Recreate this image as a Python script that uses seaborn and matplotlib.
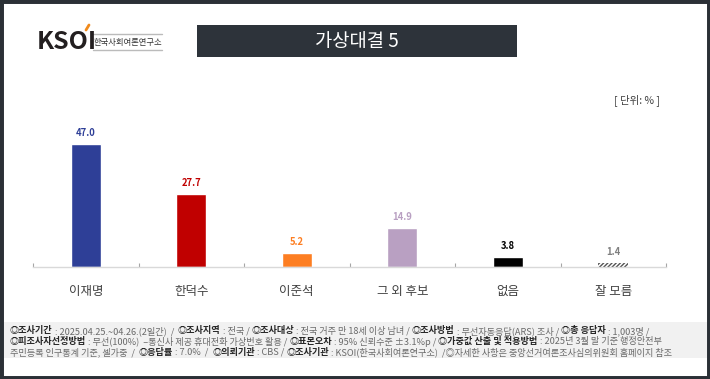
import numpy as np
import matplotlib.pyplot as plt
import seaborn as sns
from matplotlib.patches import Rectangle

# =========================
# DATA
# =========================

candidates = ["이재명", "한덕수", "이준석", "그 외 후보", "없음", "잘 모름"]
values = [47.0, 27.7, 5.2, 14.9, 3.8, 1.4]
bar_colors = ["#2e3f97", "#c00000", "#fd7e22", "#b9a0c2", "#000000", "#ffffff"]
label_colors = ["#2e3f97", "#c00000", "#fd7e22", "#b9a0c2", "#000000", "#7f7f7f"]

title = "가상대결 5"
unit_text = "[ 단위: % ]"

footer_lines = [
    [("◎조사기간", True), (" : 2025.04.25.~04.26.(2일간)  /  ", False),
     ("◎조사지역", True), (" : 전국 / ", False),
     ("◎조사대상", True), (" : 전국 거주 만 18세 이상 남녀 / ", False),
     ("◎조사방법", True), (" : 무선자동응답(ARS) 조사 / ", False),
     ("◎총 응답자", True), (" : 1,003명 /", False)],
    [("◎피조사자선정방법", True), (" : 무선(100%)  –통신사 제공 휴대전화 가상번호 활용 / ", False),
     ("◎표본오차", True), (" : 95% 신뢰수준 ±3.1%p / ", False),
     ("◎가중값 산출 및 적용방법", True), (" : 2025년 3월 말 기준 행정안전부", False)],
    [("주민등록 인구통계 기준, 셀가중  /  ", False),
     ("◎응답률", True), (" : 7.0%  /  ", False),
     ("◎의뢰기관", True), (" : CBS / ", False),
     ("◎조사기관", True), (" : KSOI(한국사회여론연구소)  /◎자세한 사항은 중앙선거여론조사심의위원회 홈페이지 참조", False)],
]

# =========================
# FIGURE
# =========================

sns.set_theme(style="white")
plt.rcParams["font.family"] = ["Noto Sans CJK KR", "DejaVu Sans"]

W, H = 710, 379
fig = plt.figure(figsize=(W / 100, H / 100), dpi=100, facecolor="white")


def fx(x):
    return x / W


def fy(y):
    return 1 - y / H


# outer frame
fig.patches.append(Rectangle((0, 0), 1, 1, transform=fig.transFigure,
                             facecolor="none", edgecolor="#2b3036",
                             linewidth=5, zorder=10))

# footer band
fig.patches.append(Rectangle((fx(3), fy(358)), fx(704), 36 / H,
                             transform=fig.transFigure, facecolor="#f1f1f1",
                             edgecolor="none", zorder=1))

# title box
fig.patches.append(Rectangle((fx(197), fy(57)), fx(320), 32 / H,
                             transform=fig.transFigure, facecolor="#2d333a",
                             edgecolor="none", zorder=1))
fig.text(fx(357), fy(41), title, color="white", fontsize=13.5,
         ha="center", va="center", zorder=2)

# logo
fig.text(fx(37), fy(42), "KSOI", color="#231f20", fontsize=18,
         fontweight="bold", ha="left", va="center")
fig.add_artist(plt.Line2D([fx(86), fx(89)], [fy(30), fy(25)],
                          color="#f08a1c", linewidth=2))
fig.text(fx(94), fy(42), "한국사회여론연구소", color="#333333", fontsize=6,
         ha="left", va="center")
fig.add_artist(plt.Line2D([fx(93), fx(162)], [fy(34), fy(34)],
                          color="#bbbbbb", linewidth=1))
fig.add_artist(plt.Line2D([fx(93), fx(162)], [fy(50), fy(50)],
                          color="#bbbbbb", linewidth=1))

# unit
fig.text(fx(660), fy(100), unit_text, color="#404040", fontsize=7.5,
         ha="right", va="center")

# =========================
# BARS
# =========================

ax = fig.add_axes([fx(33), fy(266.7), (666 - 33) / W, (266.7 - 110) / H])

sns.barplot(x=candidates, y=values, hue=candidates, palette=bar_colors,
            legend=False, width=0.285, saturation=1, ax=ax)

last = ax.patches[-1]
last.set_facecolor("white")
last.set_edgecolor("#555555")
last.set_hatch("////////")
last.set_linewidth(0)

for i, (v, c) in enumerate(zip(values, label_colors)):
    ax.annotate(f"{v:.1f}", (i, v), xytext=(0, 8), textcoords="offset points",
                ha="center", va="center", fontsize=6.8, fontweight="bold",
                color=c)

ax.set_xlim(-0.5, 5.5)
ax.set_ylim(0, 60)
ax.set_yticks([])
ax.set_xlabel("")
ax.set_ylabel("")
for s in ["top", "left", "right"]:
    ax.spines[s].set_visible(False)
ax.spines["bottom"].set_color("#d9d9d9")
ax.spines["bottom"].set_linewidth(1)

ax.set_xticks(range(len(candidates)))
ax.set_xticklabels(candidates, fontsize=9, color="#404040")
ax.tick_params(axis="x", which="major", length=0, pad=13)
ax.set_xticks(np.arange(-0.5, len(candidates), 1), minor=True)
ax.tick_params(axis="x", which="minor", direction="in", length=3,
               width=0.8, color="#a6a6a6", bottom=True)
ax.patch.set_alpha(0)

# =========================
# FOOTER
# =========================

renderer = fig.canvas.get_renderer()
for row, segs in enumerate(footer_lines):
    x = 10
    y = 331 + row * 10.7
    for txt, bold in segs:
        t = fig.text(fx(x), fy(y), txt, fontsize=6.6,
                     fontweight="bold" if bold else "normal",
                     color="#262626" if bold else "#6a6a6a",
                     ha="left", va="center", zorder=3)
        x += t.get_window_extent(renderer).width

fig.savefig("out.png", dpi=100)
